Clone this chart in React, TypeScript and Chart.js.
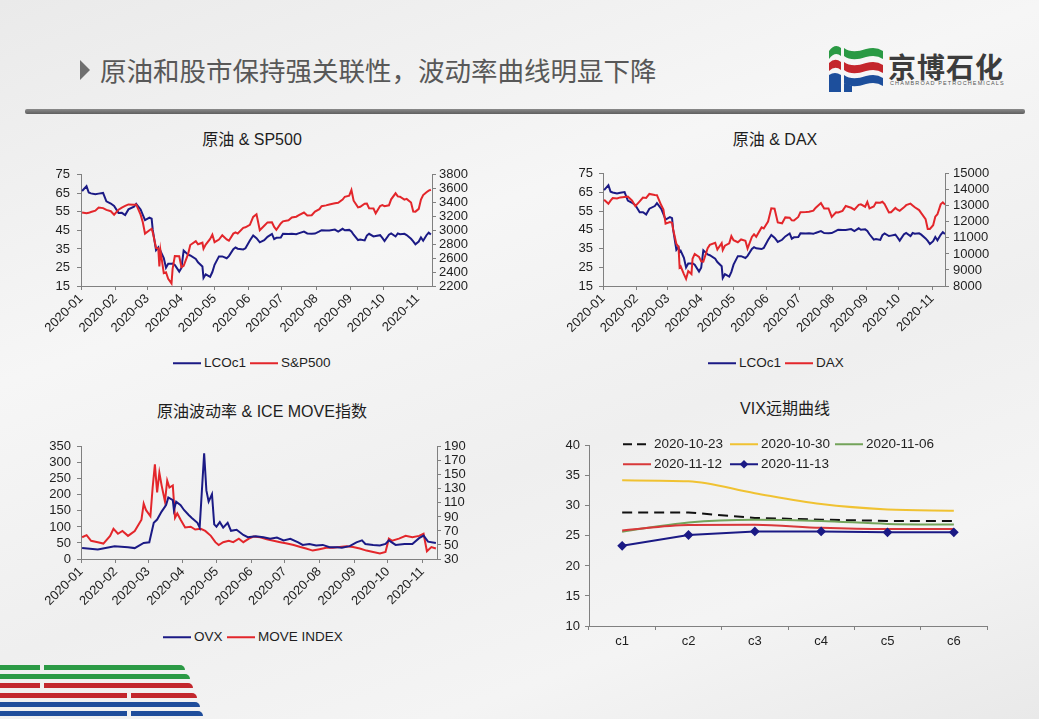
import React, { useEffect, useRef } from "react";
import { Chart, registerables } from "chart.js";
Chart.register(...registerables);

// ---------------- DATA ----------------
const monthTicks = ["2020-01", "2020-02", "2020-03", "2020-04", "2020-05", "2020-06", "2020-07", "2020-08", "2020-09", "2020-10", "2020-11"];

const tradeDates = [
  "2020-01-02", "2020-01-06", "2020-01-08", "2020-01-10", "2020-01-14", "2020-01-17", "2020-01-21", "2020-01-24", "2020-01-28", "2020-01-31",
  "2020-02-04", "2020-02-07", "2020-02-10", "2020-02-13", "2020-02-18", "2020-02-20", "2020-02-24", "2020-02-26", "2020-02-28", "2020-03-03",
  "2020-03-05", "2020-03-06", "2020-03-09", "2020-03-11", "2020-03-12", "2020-03-13", "2020-03-16", "2020-03-18", "2020-03-20", "2020-03-23",
  "2020-03-24", "2020-03-26", "2020-03-30", "2020-04-01", "2020-04-03", "2020-04-07", "2020-04-09", "2020-04-14", "2020-04-16", "2020-04-20",
  "2020-04-21", "2020-04-23", "2020-04-27", "2020-04-29", "2020-05-01", "2020-05-05", "2020-05-08", "2020-05-12", "2020-05-14", "2020-05-18",
  "2020-05-20", "2020-05-22", "2020-05-27", "2020-05-29", "2020-06-02", "2020-06-05", "2020-06-08", "2020-06-11", "2020-06-15", "2020-06-18",
  "2020-06-22", "2020-06-24", "2020-06-26", "2020-06-30", "2020-07-02", "2020-07-07", "2020-07-10", "2020-07-14", "2020-07-16", "2020-07-21",
  "2020-07-24", "2020-07-28", "2020-07-31", "2020-08-04", "2020-08-06", "2020-08-10", "2020-08-13", "2020-08-18", "2020-08-21", "2020-08-25",
  "2020-08-27", "2020-08-31", "2020-09-02", "2020-09-04", "2020-09-08", "2020-09-10", "2020-09-14", "2020-09-16", "2020-09-18", "2020-09-22",
  "2020-09-24", "2020-09-28", "2020-09-30", "2020-10-02", "2020-10-06", "2020-10-08", "2020-10-12", "2020-10-14", "2020-10-16", "2020-10-20",
  "2020-10-22", "2020-10-26", "2020-10-28", "2020-10-30", "2020-11-02", "2020-11-04", "2020-11-06", "2020-11-09", "2020-11-11", "2020-11-13",
];

const lcoc1 = [
  66.25, 68.91, 65.44, 64.98, 64.49, 64.85, 65.2, 60.69, 59.51, 58.16,
  54.45, 54.47, 53.27, 56.34, 57.75, 59.31, 56.3, 53.43, 50.52, 51.86,
  51.29, 45.27, 34.36, 35.79, 33.22, 33.85, 30.05, 24.88, 26.98, 27.03,
  27.15, 26.34, 22.76, 24.74, 34.11, 31.87, 31.48, 29.6, 27.82, 25.57,
  19.33, 21.33, 19.99, 22.54, 26.44, 30.97, 30.97, 29.98, 31.13, 34.81,
  35.75, 35.13, 34.74, 35.33, 39.57, 42.3, 40.8, 38.55, 39.72, 41.51,
  43.08, 40.31, 41.02, 41.15, 43.14, 43.08, 43.24, 42.9, 43.37, 44.32,
  43.34, 43.22, 43.3, 44.43, 45.09, 44.99, 44.96, 45.46, 44.35, 45.86,
  45.09, 45.28, 44.43, 42.66, 39.78, 40.06, 39.61, 42.22, 43.15, 41.72,
  41.94, 42.43, 40.95, 39.27, 42.65, 43.34, 41.72, 43.32, 42.93, 43.16,
  42.46, 40.46, 39.12, 37.46, 38.97, 41.23, 39.45, 42.4, 43.8, 42.78,
];

const sp500 = [
  3258, 3246, 3253, 3265, 3283, 3330, 3321, 3295, 3276, 3226,
  3298, 3328, 3352, 3374, 3370, 3373, 3226, 3116, 2954, 3003,
  3024, 2972, 2747, 2741, 2481, 2711, 2386, 2398, 2305, 2237,
  2447, 2630, 2627, 2470, 2489, 2659, 2790, 2846, 2800, 2823,
  2737, 2797, 2878, 2940, 2831, 2868, 2930, 2870, 2852, 2954,
  2972, 2955, 3036, 3044, 3081, 3194, 3232, 3002, 3066, 3115,
  3117, 3050, 3009, 3100, 3130, 3145, 3185, 3197, 3216, 3257,
  3216, 3219, 3271, 3306, 3349, 3360, 3373, 3390, 3397, 3443,
  3484, 3500, 3580, 3427, 3331, 3339, 3383, 3385, 3319, 3315,
  3246, 3351, 3363, 3348, 3361, 3447, 3534, 3489, 3484, 3443,
  3453, 3401, 3271, 3270, 3310, 3443, 3509, 3550, 3573, 3585,
];

const dax = [
  13385, 13127, 13320, 13483, 13456, 13526, 13556, 13577, 13324, 12982,
  13284, 13514, 13494, 13745, 13681, 13664, 13035, 12775, 11890, 11986,
  11944, 11542, 10625, 10439, 9161, 9232, 8742, 8442, 8929, 8742,
  9701, 10000, 9815, 9544, 9525, 10356, 10565, 10696, 10280, 10676,
  10250, 10514, 10660, 11108, 10862, 10730, 10904, 10820, 10337, 11058,
  11223, 11074, 11657, 11587, 12021, 12848, 12820, 11970, 11911, 12281,
  12262, 12094, 12089, 12311, 12608, 12617, 12633, 12697, 12874, 13171,
  12838, 12835, 12313, 12601, 12591, 12687, 12993, 12881, 12765, 13066,
  13096, 12945, 13243, 12842, 12968, 13208, 13194, 13255, 13116, 12594,
  12606, 12870, 12761, 12689, 12906, 13042, 13139, 13029, 12909, 12736,
  12543, 12177, 11561, 11556, 11789, 12324, 12480, 13096, 13217, 13077,
];

const ovxDates = [
  "2020-01-02", "2020-01-16", "2020-01-31", "2020-02-12", "2020-02-18", "2020-02-26", "2020-03-02", "2020-03-06", "2020-03-09", "2020-03-13",
  "2020-03-17", "2020-03-19", "2020-03-23", "2020-03-24", "2020-03-26", "2020-03-30", "2020-04-02", "2020-04-06", "2020-04-09", "2020-04-14",
  "2020-04-16", "2020-04-20", "2020-04-22", "2020-04-24", "2020-04-27", "2020-04-29", "2020-05-01", "2020-05-04", "2020-05-07", "2020-05-11",
  "2020-05-14", "2020-05-19", "2020-05-25", "2020-05-29", "2020-06-05", "2020-06-12", "2020-06-18", "2020-06-24", "2020-06-30", "2020-07-06",
  "2020-07-13", "2020-07-17", "2020-07-23", "2020-07-29", "2020-08-04", "2020-08-10", "2020-08-17", "2020-08-21", "2020-08-28", "2020-09-03",
  "2020-09-08", "2020-09-11", "2020-09-18", "2020-09-24", "2020-09-29", "2020-10-02", "2020-10-08", "2020-10-16", "2020-10-23", "2020-10-29",
  "2020-11-02", "2020-11-06", "2020-11-13",
];
const ovx = [
  34, 30, 40, 37, 34, 50, 52, 113, 123, 148,
  168, 192, 184, 153, 179, 168, 153, 138, 128, 113,
  98, 330, 214, 179, 202, 108, 101, 115, 98, 113,
  88, 91, 75, 68, 71, 68, 63, 67, 58, 63,
  52, 44, 47, 42, 44, 37, 37, 35, 40, 52,
  58, 47, 44, 42, 47, 58, 44, 47, 47, 65,
  73, 54, 50,
];

const moveDates = [
  "2020-01-02", "2020-01-06", "2020-01-10", "2020-01-16", "2020-01-21", "2020-01-27", "2020-01-30", "2020-02-03", "2020-02-07", "2020-02-12",
  "2020-02-18", "2020-02-24", "2020-02-26", "2020-02-28", "2020-03-03", "2020-03-05", "2020-03-07", "2020-03-09", "2020-03-11", "2020-03-13",
  "2020-03-16", "2020-03-18", "2020-03-20", "2020-03-23", "2020-03-25", "2020-03-27", "2020-03-30", "2020-04-03", "2020-04-08", "2020-04-12",
  "2020-04-17", "2020-04-21", "2020-04-26", "2020-04-30", "2020-05-03", "2020-05-07", "2020-05-12", "2020-05-16", "2020-05-21", "2020-05-25",
  "2020-05-30", "2020-06-03", "2020-06-09", "2020-06-15", "2020-06-21", "2020-06-27", "2020-07-03", "2020-07-09", "2020-07-15", "2020-07-20",
  "2020-07-26", "2020-08-01", "2020-08-07", "2020-08-13", "2020-08-19", "2020-08-25", "2020-08-31", "2020-09-06", "2020-09-12", "2020-09-18",
  "2020-09-24", "2020-09-29", "2020-10-02", "2020-10-05", "2020-10-11", "2020-10-17", "2020-10-23", "2020-10-29", "2020-11-02", "2020-11-05",
  "2020-11-09", "2020-11-13",
];
const moveIndex = [
  61, 64, 56, 54, 52, 63, 73, 66, 70, 63,
  70, 86, 109, 100, 91, 132, 165, 125, 153, 135,
  112, 142, 132, 135, 89, 95, 86, 75, 76, 72,
  73, 70, 63, 54, 50, 54, 56, 54, 59, 54,
  59, 62, 61, 58, 56, 54, 52, 50, 47, 45,
  42, 44, 46, 46, 47, 48, 47, 45, 42, 40,
  38, 40, 59, 56, 59, 63, 61, 63, 66, 41,
  47, 45,
];

const vixTenors = ["c1", "c2", "c3", "c4", "c5", "c6"];
const vix20201023 = [28.9, 28.9, 28.0, 27.7, 27.5, 27.5];
const vix20201030 = [34.25, 34.1, 32.1, 30.3, 29.4, 29.2];
const vix20201106 = [25.7, 27.25, 27.7, 27.5, 27.0, 26.9];
const vix20201112 = [25.9, 26.8, 26.85, 26.35, 26.15, 26.15];
const vix20201113 = [23.35, 25.15, 25.75, 25.75, 25.6, 25.6];

// ---------------- HELPERS ----------------
const BLUE = "#1b1a85";
const RED = "#e3262b";
const AXIS = "#808080";
const TXT = "#1e1e1e";
const FONT = '"Liberation Sans", Arial, sans-serif';
const CJK = '"Liberation Sans", "Noto Sans CJK SC", sans-serif';

function dayOf(s: string) {
  const [y, m, d] = s.split("-").map(Number);
  return (Date.UTC(y, m - 1, d || 1) - Date.UTC(2020, 0, 1)) / 86400000;
}

function yAxis(position: string, min: number, max: number, step: number, width: number, pad: number) {
  return {
    position,
    min,
    max,
    ticks: {
      stepSize: step, padding: pad, color: TXT, autoSkip: false,
      font: { size: 13, family: FONT },
      callback: (v: any) => String(v),
    },
    grid: { drawOnChartArea: false, drawTicks: true, tickLength: 4, color: AXIS },
    border: { display: true, color: AXIS, width: 1 },
    afterFit: (s: any) => { s.width = width; },
  };
}

function tsConfig(p: any) {
  return {
    type: "line",
    data: {
      datasets: p.series.map((s: any) => ({
        label: s.label,
        data: s.dates.map((d: string, i: number) => ({ x: dayOf(d), y: s.values[i] })),
        borderColor: s.color,
        borderWidth: 2,
        pointRadius: 0,
        yAxisID: s.axis,
        order: s.order,
        tension: 0,
        fill: false,
      })),
    },
    options: {
      responsive: false,
      animation: false,
      devicePixelRatio: 1,
      layout: { padding: { top: p.padTop, left: 0, right: 0, bottom: 0 } },
      plugins: { legend: { display: false }, tooltip: { enabled: false } },
      scales: {
        x: {
          type: "linear",
          min: 0,
          max: p.xMax,
          afterBuildTicks: (axis: any) => {
            axis.ticks = monthTicks.map((m) => ({ value: dayOf(m) }));
          },
          ticks: {
            autoSkip: false,
            minRotation: 45,
            maxRotation: 45,
            padding: 1,
            color: TXT,
            font: { size: 13, family: FONT },
            callback: (_v: any, i: number) => monthTicks[i],
          },
          grid: { drawOnChartArea: false, drawTicks: true, tickLength: 4, color: AXIS },
          border: { display: true, color: AXIS, width: 1 },
          afterFit: (s: any) => { s.height = p.xHeight; },
        },
        yL: yAxis("left", p.left[0], p.left[1], p.left[2], p.left[3], p.left[4]),
        yR: yAxis("right", p.right[0], p.right[1], p.right[2], p.right[3], p.right[4]),
      },
    },
  };
}

function vixConfig() {
  const ds = (label: string, data: number[], color: string, extra: any = {}) => ({
    label, data, borderColor: color, backgroundColor: color, borderWidth: 2, pointRadius: 0, fill: false, ...extra,
  });
  return {
    type: "line",
    data: {
      labels: vixTenors,
      datasets: [
        ds("2020-11-13", vix20201113, BLUE, { pointRadius: 3.5, pointStyle: "rectRot", order: 0 }),
        ds("2020-11-12", vix20201112, "#d8383a", { cubicInterpolationMode: "monotone", order: 1 }),
        ds("2020-11-06", vix20201106, "#73a35a", { cubicInterpolationMode: "monotone", order: 2 }),
        ds("2020-10-30", vix20201030, "#f0c232", { cubicInterpolationMode: "monotone", order: 3 }),
        ds("2020-10-23", vix20201023, "#111111", { borderDash: [10, 6], order: 4 }),
      ],
    },
    options: {
      responsive: false,
      animation: false,
      devicePixelRatio: 1,
      layout: { padding: { top: 10, left: 0, right: 13, bottom: 0 } },
      plugins: { legend: { display: false }, tooltip: { enabled: false } },
      scales: {
        x: {
          type: "category",
          offset: true,
          ticks: { padding: 4, color: TXT, font: { size: 13, family: FONT } },
          grid: { offset: true, drawOnChartArea: false, drawTicks: true, tickLength: 4, color: AXIS },
          border: { display: true, color: AXIS, width: 1 },
          afterFit: (s: any) => { s.height = 22; },
        },
        y: yAxis("left", 10, 40, 5, 49, 5),
      },
    },
  };
}

// ---------------- COMPONENTS ----------------
function ChartCanvas({ left, top, width, height, make }: any) {
  const ref = useRef<HTMLCanvasElement>(null);
  useEffect(() => {
    const chart = new Chart(ref.current as any, make());
    return () => chart.destroy();
  }, []);
  return (
    <canvas ref={ref} width={width} height={height}
      style={{ position: "absolute", left, top, width, height }} />
  );
}

function Txt({ x, y, size, children, color = TXT, family = CJK, weight = 400, align = "center", spacing = 0 }: any) {
  const tx = align === "center" ? "-50%" : "0";
  return (
    <div style={{
      position: "absolute", left: x, top: y, transform: `translate(${tx}, -50%)`,
      fontSize: size, fontFamily: family, color, fontWeight: weight, whiteSpace: "nowrap",
      lineHeight: 1, letterSpacing: spacing,
    }}>{children}</div>
  );
}

function LegendItem({ x, y, color, label, dash, marker, size = 13.5 }: any) {
  return (
    <div style={{ position: "absolute", left: x, top: y, transform: "translateY(-50%)", display: "flex", alignItems: "center", whiteSpace: "nowrap" }}>
      <svg width={28} height={10} style={{ display: "block" }}>
        <line x1={0} y1={5} x2={28} y2={5} stroke={color} strokeWidth={2.2} strokeDasharray={dash || undefined} />
        {marker && <rect x={11} y={2} width={6} height={6} fill={color} transform="rotate(45 14 5)" />}
      </svg>
      <span style={{ marginLeft: 3, fontSize: size, fontFamily: FONT, color: TXT, lineHeight: 1 }}>{label}</span>
    </div>
  );
}

function Logo() {
  return (
    <svg width={60} height={56} style={{ position: "absolute", left: 826, top: 40 }} viewBox="0 0 60 56">
      <path d="M3 11 Q9 3 15 8 L15 16 Q9 11 3 19 Z" fill="#2a9a44" />
      <path d="M18 8 Q26 14 40 9 Q50 6 57 11 L57 19 Q50 14 40 17 Q26 22 18 16 Z" fill="#2a9a44" />
      <path d="M3 23 Q9 17 15 22 L15 30 Q9 25 3 31 Z" fill="#c4262c" />
      <path d="M18 22 Q26 28 40 23 Q50 20 57 25 L57 33 Q50 28 40 31 Q26 36 18 30 Z" fill="#c4262c" />
      <path d="M3 35 Q9 31 15 35 L15 52 L3 52 Z" fill="#1d4f9c" />
      <path d="M18 35 Q26 41 40 36 Q50 33 57 38 L57 46 Q50 41 40 44 Q26 49 18 43 Z" fill="#1d4f9c" />
      <path d="M18 43 L26 46 L26 52 L18 52 Z" fill="#1d4f9c" />
    </svg>
  );
}

function Stripes() {
  const rows = [
    { y: 665, c: "#2b9a45", segs: [[0, 40], [44, 185]] },
    { y: 674, c: "#2b9a45", segs: [[0, 190]] },
    { y: 683, c: "#c3272d", segs: [[0, 40], [44, 193]] },
    { y: 693, c: "#c3272d", segs: [[0, 127], [131, 197]] },
    { y: 702, c: "#1f4d9b", segs: [[0, 200]] },
    { y: 711, c: "#1f4d9b", segs: [[0, 127], [131, 203]] },
  ];
  return (
    <>
      {rows.map((r, i) =>
        r.segs.map((s, j) => (
          <div key={`${i}-${j}`} style={{
            position: "absolute", left: s[0], top: r.y, width: s[1] - s[0], height: 5, background: r.c,
            borderTopRightRadius: j === r.segs.length - 1 ? 5 : 0,
          }} />
        ))
      )}
    </>
  );
}

export default function App() {
  useEffect(() => {
    document.body.style.margin = "0";
  }, []);

  const c1 = () => tsConfig({
    series: [
      { label: "S&P500", dates: tradeDates, values: sp500, color: RED, axis: "yR", order: 0 },
      { label: "LCOc1", dates: tradeDates, values: lcoc1, color: BLUE, axis: "yL", order: 1 },
    ],
    left: [15, 75, 10, 51, 7], right: [2200, 3800, 200, 38, 3], padTop: 9, xHeight: 64, xMax: 318,
  });
  const c2 = () => tsConfig({
    series: [
      { label: "DAX", dates: tradeDates, values: dax, color: RED, axis: "yR", order: 0 },
      { label: "LCOc1", dates: tradeDates, values: lcoc1, color: BLUE, axis: "yL", order: 1 },
    ],
    left: [15, 75, 10, 53, 6], right: [8000, 15000, 1000, 49, 4], padTop: 9, xHeight: 64, xMax: 317,
  });
  const c3 = () => tsConfig({
    series: [
      { label: "MOVE INDEX", dates: moveDates, values: moveIndex, color: RED, axis: "yR", order: 1 },
      { label: "OVX", dates: ovxDates, values: ovx, color: BLUE, axis: "yL", order: 0 },
    ],
    left: [0, 350, 50, 51, 6], right: [30, 190, 20, 37, 3], padTop: 10, xHeight: 64, xMax: 318,
  });

  return (
    <div style={{
      position: "fixed", left: 0, top: 0, width: 1039, height: 719, overflow: "hidden",
      background: "linear-gradient(160deg, #eaeaea 0%, #f6f6f6 35%, #efefef 60%, #f4f4f4 80%, #e9e9e9 100%)",
    }}>
      {/* header */}
      <svg width={12} height={22} style={{ position: "absolute", left: 79, top: 59 }}>
        <polygon points="1,1 11,11 1,21" fill="#6f6f6f" />
      </svg>
      <Txt x={100} y={70} size={26.5} color="#585858" family='"Noto Sans CJK SC", sans-serif' align="left">
        原油和股市保持强关联性，波动率曲线明显下降
      </Txt>
      <Logo />
      <Txt x={888} y={66} size={28} color="#3c3c3c" family='"Noto Sans CJK SC", sans-serif' weight={700} align="left" spacing={1}>
        京博石化
      </Txt>
      <Txt x={890} y={84} size={5.5} color="#555" family={FONT} align="left" spacing={1.1}>
        CHAMBROAD PETROCHEMICALS
      </Txt>
      <div style={{
        position: "absolute", left: 25, top: 109, width: 1000, height: 5, borderRadius: 2,
        background: "linear-gradient(180deg, #8a8a8a, #5f5f5f)",
      }} />

      {/* chart 1 */}
      <Txt x={252} y={140} size={16}>原油 &amp; SP500</Txt>
      <ChartCanvas left={30} top={160} width={440} height={190} make={c1} />
      <LegendItem x={173} y={363} color={BLUE} label="LCOc1" />
      <LegendItem x={250} y={363} color={RED} label="S&P500" />

      {/* chart 2 */}
      <Txt x={775} y={140} size={16}>原油 &amp; DAX</Txt>
      <ChartCanvas left={550} top={160} width={444} height={190} make={c2} />
      <LegendItem x={708} y={363} color={BLUE} label="LCOc1" />
      <LegendItem x={785} y={363} color={RED} label="DAX" />

      {/* chart 3 */}
      <Txt x={262} y={412} size={16}>原油波动率 &amp; ICE MOVE指数</Txt>
      <ChartCanvas left={30} top={433} width={444} height={190} make={c3} />
      <LegendItem x={163} y={637} color={BLUE} label="OVX" />
      <LegendItem x={227} y={637} color={RED} label="MOVE INDEX" />

      {/* chart 4 */}
      <Txt x={785} y={409} size={16}>VIX远期曲线</Txt>
      <ChartCanvas left={540} top={433} width={460} height={215} make={vixConfig} />
      <LegendItem x={623} y={444} color="#111" dash="9 5" label="2020-10-23" />
      <LegendItem x={730} y={444} color="#f0c232" label="2020-10-30" />
      <LegendItem x={835} y={444} color="#73a35a" label="2020-11-06" />
      <LegendItem x={623} y={464} color="#d8383a" label="2020-11-12" />
      <LegendItem x={730} y={464} color={BLUE} marker label="2020-11-13" />

      <Stripes />
    </div>
  );
}
